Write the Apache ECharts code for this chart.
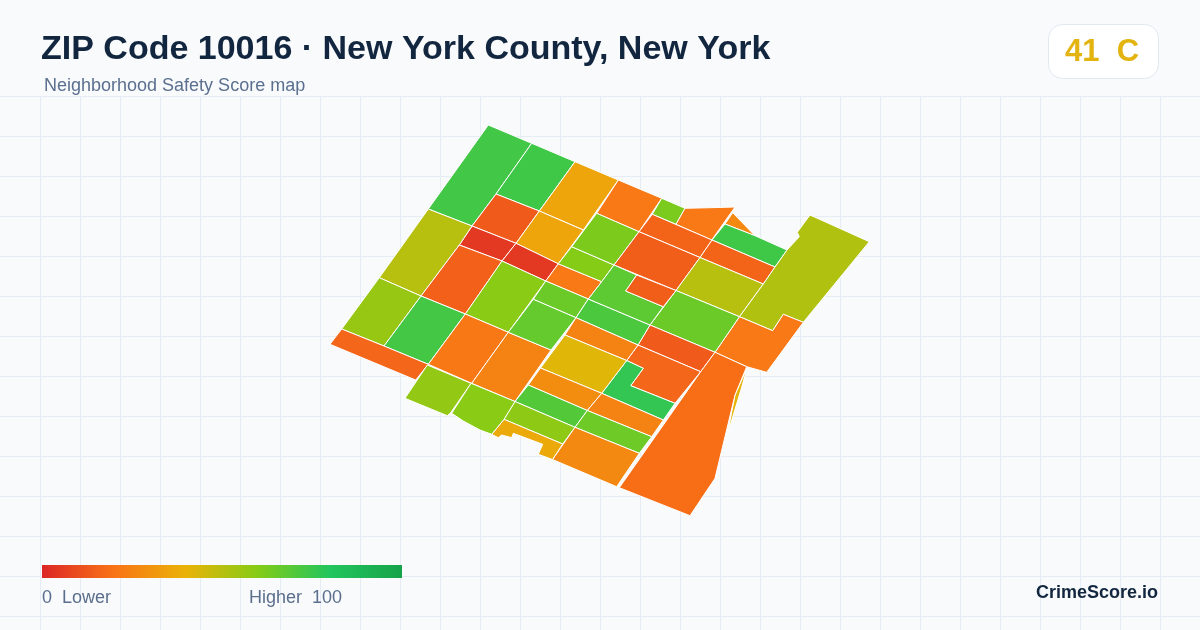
<!DOCTYPE html>
<html>
<head>
<meta charset="utf-8">
<style>html,body{margin:0;padding:0;background:#F8FAFC}#c{width:1200px;height:630px}</style>
<script src="https://cdn.jsdelivr.net/npm/echarts@6/dist/echarts.min.js"></script>
</head>
<body>
<div id="c"></div>
<script>
// Scale stops (evenly spaced from 0 to 100)
const scoreColors = ['#DC2626','#F97316','#EAB308','#84CC16','#22C55E','#16A34A'];
// Block-group ids and their safety scores, estimated from the fills
const tractNames = ['sliver','nw1','nw2','amber1','orange1','lime1','house','triangle','green1','red1','amber2','redbar1','redbar2','olive1','redorange1','lime2','strip1','strip2','lime3','strip3','strip4','redlarge','strip5','olive2','oliveBig','orangeSE','lime4','red2','orange2','greenL','bigOrange','lime5','green2','orangeSW','orange3','orange4','lime6','green3','orange5','notchGreen','notchRed','yellow','orange6','orange7','green4','green5','lime7','orange8','yellowStrip','lime8','lime9'];
const tractScores = [41,73.5,74,35.6,22,62,22,27,74,13.5,35.6,5,5,50,15,59,22,65,60,61.6,16,14.5,16,50,51.4,22,65,13.5,16.5,76.6,18.7,56,73,16.5,21.6,25,66.5,71.4,25,68,14.5,42,28,25,70,64.5,58,27,37,57,59];
// Outlines in map units, one ring per block group, same order as tractNames
const tractRings = [
[[747,368],[741.5,388],[727.5,434],[735,395]],
[[488.3,125],[531.7,143.3],[496,194],[472,226],[428.3,209]],
[[531.7,143.3],[575,161.7],[539.3,211],[496,194]],
[[575,161.7],[618.3,180],[583.3,230],[539.3,211]],
[[618.3,180],[661.7,198.3],[639,231.7],[596.7,213.3]],
[[661.7,198.3],[685,208.3],[676,224.3],[652.3,214.3]],
[[685,208.3],[710.7,207.7],[735,207],[711.7,240],[676,224.3]],
[[732.7,212.7],[755,235.7],[725,224]],
[[725,224],[755,235.7],[787,250],[775,267],[712,240]],
[[496,194],[539.3,211],[516,243.3],[472,226]],
[[539.3,211],[583.3,230],[558.3,263.8],[516,243.3]],
[[472,226],[516,243.3],[502,261],[459.3,245]],
[[516,243.3],[558.3,263.8],[545.7,281],[502,261]],
[[428.3,209],[472,226],[459.3,245],[421,296],[379.3,277.7]],
[[459.3,245],[502,261],[465.3,314],[421,296]],
[[502,261],[545.7,281],[508.3,332.3],[465.3,314]],
[[558.3,263.8],[601.7,281.7],[588.3,299],[545.7,281]],
[[545.7,281],[588.3,299],[576,317.7],[533.3,299.3]],
[[571.7,246.7],[614,265],[601.7,281.7],[558.3,263.8]],
[[596.7,213.3],[639,231.7],[614,265],[571.7,246.7]],
[[652.3,214.3],[712,240],[700,257.5],[639,231.7]],
[[639,231.7],[700,257.5],[676,290.5],[614,265]],
[[712,240],[775,267],[763.3,284],[700,257.5]],
[[700,257.5],[763.3,284],[739.5,316.7],[676,290.5]],
[[810,215],[869.3,241.7],[803.3,322.3],[783.3,314.3],[772.7,330.7],[739.5,316.7],[763.3,284],[775,267],[787,250],[799.3,236.7],[797.3,232.3]],
[[739.5,316.7],[772.7,330.7],[783.3,314.3],[803.3,322.3],[766.7,372.3],[746.7,366.7],[715,352.3]],
[[676,290.5],[739.5,316.7],[715,352.3],[650,325]],
[[650,325],[715,352.3],[700.7,371.7],[638,345]],
[[638,345],[700.7,371.7],[675,403.3],[630.7,385.7],[643.3,368.3],[626.7,360.5]],
[[626.7,360.5],[643.3,368.3],[630.7,385.7],[675,403.3],[663.3,420],[601.7,393.3]],
[[715,352.3],[746.7,366.7],[735,395],[725,436.7],[715,478.3],[711.7,483.3],[690,515.7],[619.3,487.7],[677,405.5],[700.7,371.7]],
[[379.3,277.7],[421,296],[384,346],[341.7,329]],
[[421,296],[465.3,314],[428.3,364.3],[384,346]],
[[341.7,329],[384,346],[428.3,364.3],[415.7,380],[330,344.3]],
[[465.3,314],[508.3,332.3],[471.7,383.3],[428.3,364.3]],
[[508.3,332.3],[551,350],[515,401.5],[471.7,383.3]],
[[533.3,299.3],[576,317.7],[551,350],[508.3,332.3]],
[[588.3,299],[650,325],[638,345],[576,317.7]],
[[576,317.7],[638,345],[626.7,360.5],[565,335]],
[[614,265],[636.7,275],[625.7,291],[663.3,306.7],[650,325],[588.3,299],[601.7,281.7]],
[[636.7,275],[676,290.5],[663.3,306.7],[625.7,291]],
[[565,335],[626.7,360.5],[601.7,393.3],[540.5,368]],
[[540.5,368],[601.7,393.3],[587.3,410.5],[528.3,385]],
[[601.7,393.3],[663.3,420],[651.7,436.7],[587.3,410.5]],
[[528.3,385],[587.3,410.5],[575,427.3],[515,401.5]],
[[587.3,410.5],[651.7,436.7],[639.3,453.3],[575,427.3]],
[[515,401.5],[575,427.3],[562.7,444],[504,419.3]],
[[575,427.3],[639.3,453.3],[616.7,486.7],[552.5,459.5]],
[[504,419.3],[562.7,444],[552.5,459.5],[538.3,454.3],[542.7,444.3],[513.3,433.3],[511.7,437.7],[501.7,435],[498.3,437.7],[491.7,434.3]],
[[427.3,365],[471,383.3],[450.7,412.7],[447.3,415.7],[405,398.3]],
[[471,383.3],[515,401.5],[504,419.3],[491.7,434.3],[480,430],[463.3,421],[451.7,413.3]]
];
const titleText = 'ZIP Code 10016 · New York County, New York';
const subtitleText = 'Neighborhood Safety Score map';
const badgeText = '41  C';
const legendLow = '0  Lower';
const legendHigh = 'Higher  100';
const brandText = 'CrimeScore.io';

const geoJson = {
  type: 'FeatureCollection',
  features: tractNames.map((name, i) => ({
    type: 'Feature',
    properties: { name },
    geometry: { type: 'Polygon', coordinates: [tractRings[i]] }
  }))
};
echarts.registerMap('zip10016', geoJson);

const allPts = tractRings.flat();
const minX = Math.min(...allPts.map(p => p[0])), maxX = Math.max(...allPts.map(p => p[0]));
const minY = Math.min(...allPts.map(p => p[1])), maxY = Math.max(...allPts.map(p => p[1]));

const font = '"Liberation Sans", Arial, sans-serif';
const gridLine = { show: true, lineStyle: { color: '#E6ECF3', width: 1 } };
const noLine = { show: false };
const bareAxis = { type: 'value', axisLine: noLine, axisTick: noLine, axisLabel: noLine };
const chart = echarts.init(document.getElementById('c'), null, { renderer: 'canvas', width: 1200, height: 630 });
chart.setOption({
  animation: false,
  backgroundColor: '#F8FAFC',
  // Backdrop: one grid carries the vertical rules, the other the full-width horizontal rules
  grid: [
    { left: 40, top: 96, width: 1120, height: 534, show: false },
    { left: 0, top: 96, width: 1200, height: 520, show: false }
  ],
  xAxis: [
    { ...bareAxis, gridIndex: 0, min: 0, max: 1120, interval: 40, splitLine: gridLine },
    { ...bareAxis, gridIndex: 1, min: 0, max: 1200, interval: 40, splitLine: noLine }
  ],
  yAxis: [
    { ...bareAxis, gridIndex: 0, min: 0, max: 534, interval: 534, splitLine: noLine },
    { ...bareAxis, gridIndex: 1, min: 0, max: 520, interval: 40, inverse: true, splitLine: gridLine }
  ],
  title: [
    { text: titleText, left: 41, top: 33, padding: 0,
      textStyle: { fontFamily: font, fontSize: 34, fontWeight: 'bold', color: '#12263F' } },
    { text: subtitleText, left: 44, top: 77, padding: 0,
      textStyle: { fontFamily: font, fontSize: 18, fontWeight: 'normal', color: '#5B708F' } }
  ],
  visualMap: {
    show: false, type: 'continuous', min: 0, max: 100, seriesIndex: 0,
    inRange: { color: scoreColors }
  },
  series: [{
    type: 'map', map: 'zip10016', silent: true,
    projection: { project: p => p, unproject: p => p },
    left: minX, top: minY, width: maxX - minX, height: maxY - minY,
    roam: false, label: { show: false },
    itemStyle: { borderColor: '#FFFFFF', borderWidth: 1 },
    emphasis: { disabled: true }, select: { disabled: true },
    data: tractNames.map((name, i) => ({ name, value: tractScores[i] }))
  }],
  graphic: [
    { type: 'rect', z: 100, shape: { x: 1048.5, y: 24.5, width: 110, height: 54, r: 14 }, style: { fill: '#FFFFFF', stroke: '#E2E8F0', lineWidth: 1 } },
    { type: 'text', z: 101, x: 1065, y: 52, style: { text: badgeText, fontFamily: font, fontSize: 31, fontWeight: 'bold', fill: '#E3B310', verticalAlign: 'middle' } },
    { type: 'rect', z: 100, shape: { x: 42, y: 565, width: 360, height: 13 },
      style: { fill: new echarts.graphic.LinearGradient(0, 0, 1, 0, scoreColors.map((color, i) => ({ offset: i / (scoreColors.length - 1), color }))) } },
    { type: 'text', z: 100, x: 42, y: 598, style: { text: legendLow, fontFamily: font, fontSize: 18, fill: '#5B6F8C', verticalAlign: 'middle' } },
    { type: 'text', z: 100, x: 249, y: 598, style: { text: legendHigh, fontFamily: font, fontSize: 18, fill: '#5B6F8C', verticalAlign: 'middle' } },
    { type: 'text', z: 100, x: 1158, y: 593.5, style: { text: brandText, fontFamily: font, fontSize: 18, fontWeight: 'bold', fill: '#12263F', align: 'right', verticalAlign: 'middle' } }
  ]
});
</script>
</body>
</html>
